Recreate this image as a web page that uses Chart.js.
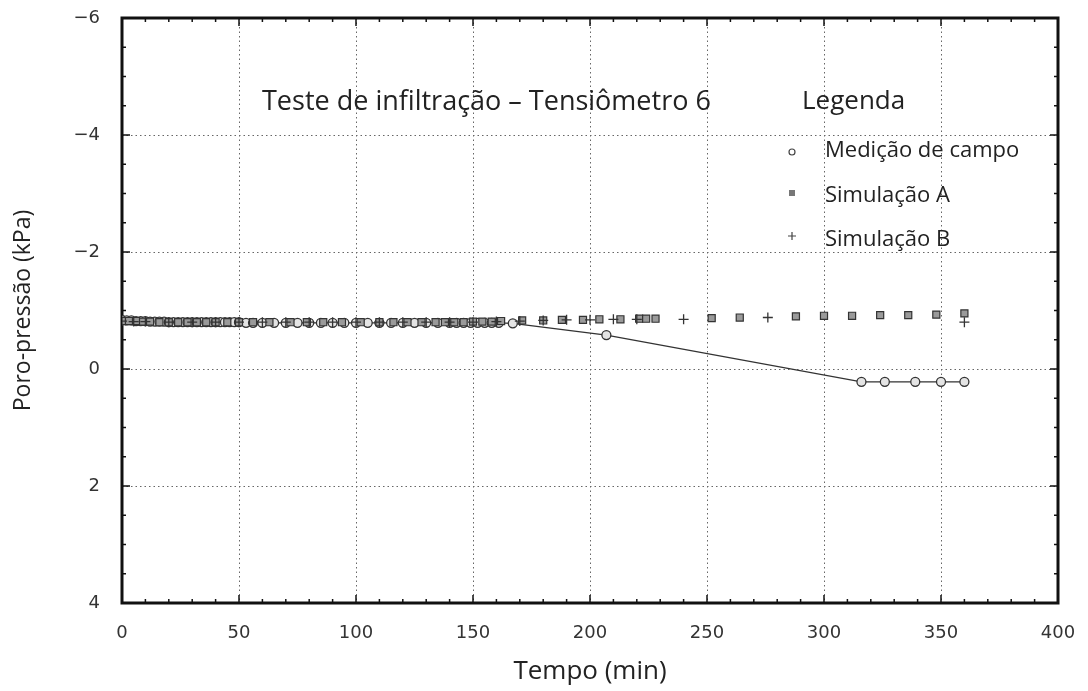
<!DOCTYPE html>
<html>
<head>
<meta charset="utf-8">
<script src="https://cdn.jsdelivr.net/npm/chart.js@4.4.1/dist/chart.umd.min.js"></script>
<style>
  html, body { margin: 0; padding: 0; background: #fff; }
  #wrap { width: 1088px; height: 691px; }
</style>
</head>
<body>
<div id="wrap"><canvas id="chart" width="1088" height="691"></canvas></div>
<script>
// Medição de campo (circles + line)
const campoT = [0, 2, 4, 6, 8, 10, 12, 14, 16, 18, 20, 22, 24, 26, 28, 30, 32, 34, 36, 38, 40, 42, 44, 46, 48, 50, 53, 56, 60, 65, 70, 75, 80, 85, 90, 95, 100, 105, 110, 115, 120, 125, 130, 135, 140, 143, 146, 149, 152, 155, 158, 161, 167, 207, 316, 326, 339, 350, 360];
const campoP = [-0.84, -0.83, -0.83, -0.82, -0.82, -0.82, -0.81, -0.81, -0.81, -0.81, -0.8, -0.8, -0.8, -0.8, -0.8, -0.8, -0.8, -0.8, -0.8, -0.8, -0.8, -0.8, -0.8, -0.8, -0.8, -0.8, -0.79, -0.79, -0.79, -0.79, -0.79, -0.79, -0.79, -0.79, -0.79, -0.79, -0.79, -0.79, -0.79, -0.79, -0.79, -0.79, -0.79, -0.79, -0.79, -0.79, -0.79, -0.79, -0.79, -0.79, -0.79, -0.79, -0.78, -0.58, 0.22, 0.22, 0.22, 0.22, 0.22];

// Simulação A (squares)
const simAT = [0, 3, 6, 9, 12, 16, 20, 24, 28, 32, 36, 40, 45, 50, 56, 63, 72, 79, 86, 94, 102, 110, 116, 122, 128, 134, 138, 142, 146, 150, 154, 158, 162, 171, 180, 188, 197, 204, 213, 221, 224, 228, 252, 264, 288, 300, 312, 324, 336, 348, 360];
const simAP = [-0.82, -0.82, -0.82, -0.81, -0.81, -0.8, -0.8, -0.8, -0.8, -0.8, -0.8, -0.8, -0.8, -0.8, -0.8, -0.8, -0.8, -0.8, -0.8, -0.8, -0.8, -0.8, -0.8, -0.8, -0.8, -0.8, -0.8, -0.8, -0.8, -0.81, -0.81, -0.81, -0.82, -0.83, -0.83, -0.84, -0.84, -0.85, -0.85, -0.86, -0.86, -0.86, -0.87, -0.88, -0.9, -0.91, -0.91, -0.92, -0.92, -0.93, -0.95];

// Simulação B (plus)
const simBT = [0, 5, 10, 20, 30, 40, 50, 60, 70, 80, 90, 100, 110, 120, 130, 140, 150, 160, 170, 180, 190, 200, 210, 220, 240, 276, 360];
const simBP = [-0.82, -0.81, -0.81, -0.8, -0.8, -0.8, -0.8, -0.8, -0.8, -0.8, -0.8, -0.8, -0.8, -0.8, -0.8, -0.8, -0.8, -0.81, -0.82, -0.83, -0.84, -0.84, -0.85, -0.85, -0.85, -0.88, -0.8];

const toXY = (t, p) => t.map((x, i) => ({ x, y: p[i] }));

const TXT = '#222';

// minor inward ticks, dotted grid, frame, title and legend
const decor = {
  id: 'decor',
  beforeDatasetsDraw(chart) {
    const { ctx, chartArea: a, scales: { x, y } } = chart;
    ctx.save();
    ctx.strokeStyle = '#666';
    ctx.lineWidth = 1;
    ctx.setLineDash([1.5, 3]);
    for (let v = 50; v < 400; v += 50) {
      const px = Math.round(x.getPixelForValue(v)) + 0.5;
      ctx.beginPath(); ctx.moveTo(px, a.top); ctx.lineTo(px, a.bottom); ctx.stroke();
    }
    for (let v = -4; v < 4; v += 2) {
      const py = Math.round(y.getPixelForValue(v)) + 0.5;
      ctx.beginPath(); ctx.moveTo(a.left, py); ctx.lineTo(a.right, py); ctx.stroke();
    }
    ctx.setLineDash([]);
    ctx.strokeStyle = '#111';
    ctx.lineWidth = 1.5;
    for (let v = 10; v < 400; v += 10) {
      const px = x.getPixelForValue(v);
      const len = v % 50 === 0 ? 8 : 4;
      ctx.beginPath(); ctx.moveTo(px, a.bottom); ctx.lineTo(px, a.bottom - len); ctx.stroke();
      ctx.beginPath(); ctx.moveTo(px, a.top); ctx.lineTo(px, a.top + len); ctx.stroke();
    }
    for (let v = -5.5; v < 4; v += 0.5) {
      const py = y.getPixelForValue(v);
      const len = v % 2 === 0 ? 8 : 4;
      ctx.beginPath(); ctx.moveTo(a.left, py); ctx.lineTo(a.left + len, py); ctx.stroke();
      ctx.beginPath(); ctx.moveTo(a.right, py); ctx.lineTo(a.right - len, py); ctx.stroke();
    }
    ctx.lineWidth = 3;
    ctx.strokeRect(a.left, a.top, a.right - a.left, a.bottom - a.top);
    ctx.restore();
  },
  afterDraw(chart) {
    const { ctx } = chart;
    ctx.save();
    ctx.fillStyle = TXT;
    ctx.textBaseline = 'middle';
    ctx.textAlign = 'left';
    ctx.font = '27px "Open Sans"';
    ctx.fillText('Teste de infiltração – Tensiômetro 6', 262, 102);
    ctx.font = '26px "Open Sans"';
    ctx.fillText('Legenda', 802, 102);
    ctx.font = '22px "Open Sans"';
    ctx.fillText('Medição de campo', 825, 151);
    ctx.fillText('Simulação A', 825, 196);
    ctx.fillText('Simulação B', 825, 240);
    ctx.strokeStyle = '#444';
    ctx.lineWidth = 1.2;
    ctx.beginPath(); ctx.arc(792, 152, 3, 0, Math.PI * 2); ctx.stroke();
    ctx.fillStyle = '#777';
    ctx.fillRect(789, 190, 6, 6);
    ctx.beginPath();
    ctx.moveTo(788, 236); ctx.lineTo(796, 236);
    ctx.moveTo(792, 232); ctx.lineTo(792, 240);
    ctx.stroke();
    ctx.restore();
  }
};

new Chart(document.getElementById('chart'), {
  type: 'scatter',
  data: {
    datasets: [
      {
        label: 'Simulação B',
        data: toXY(simBT, simBP),
        pointStyle: 'cross',
        pointRadius: 5,
        borderColor: '#333',
        borderWidth: 1.3,
        showLine: false
      },
      {
        label: 'Simulação A',
        data: toXY(simAT, simAP),
        pointStyle: 'rect',
        pointRadius: 5,
        backgroundColor: '#9a9a9a',
        borderColor: '#333',
        borderWidth: 1.2,
        showLine: false
      },
      {
        label: 'Medição de campo',
        data: toXY(campoT, campoP),
        pointStyle: 'circle',
        pointRadius: 4.5,
        backgroundColor: '#e4e4e4',
        borderColor: '#333',
        borderWidth: 1.3,
        showLine: true,
        tension: 0
      }
    ]
  },
  options: {
    responsive: false,
    animation: false,
    layout: { padding: { left: 6, right: 30, top: 18, bottom: 2 } },
    plugins: { legend: { display: false }, tooltip: { enabled: false } },
    scales: {
      x: {
        type: 'linear',
        min: 0, max: 400,
        ticks: { stepSize: 50, color: '#333', font: { family: 'DejaVu Sans', size: 18 }, padding: 12 },
        grid: { display: false },
        border: { display: false },
        title: { display: true, text: 'Tempo (min)', color: TXT, font: { family: 'Open Sans', size: 26 }, padding: { top: 2, bottom: 2 } },
        afterFit: s => { s.height = 86; s.paddingLeft = 0; s.paddingRight = 0; }
      },
      y: {
        min: -6, max: 4,
        reverse: true,
        ticks: {
          stepSize: 2, color: '#333', font: { family: 'DejaVu Sans', size: 18 }, padding: 14,
          callback: v => (v < 0 ? '−' + Math.abs(v) : String(v))
        },
        grid: { display: false },
        border: { display: false },
        title: { display: true, text: 'Poro-pressão (kPa)', color: TXT, font: { family: 'Open Sans', size: 23 } },
        afterFit: s => { s.width = 116; s.paddingTop = 0; s.paddingBottom = 0; }
      }
    }
  },
  plugins: [decor]
});
</script>
</body>
</html>
